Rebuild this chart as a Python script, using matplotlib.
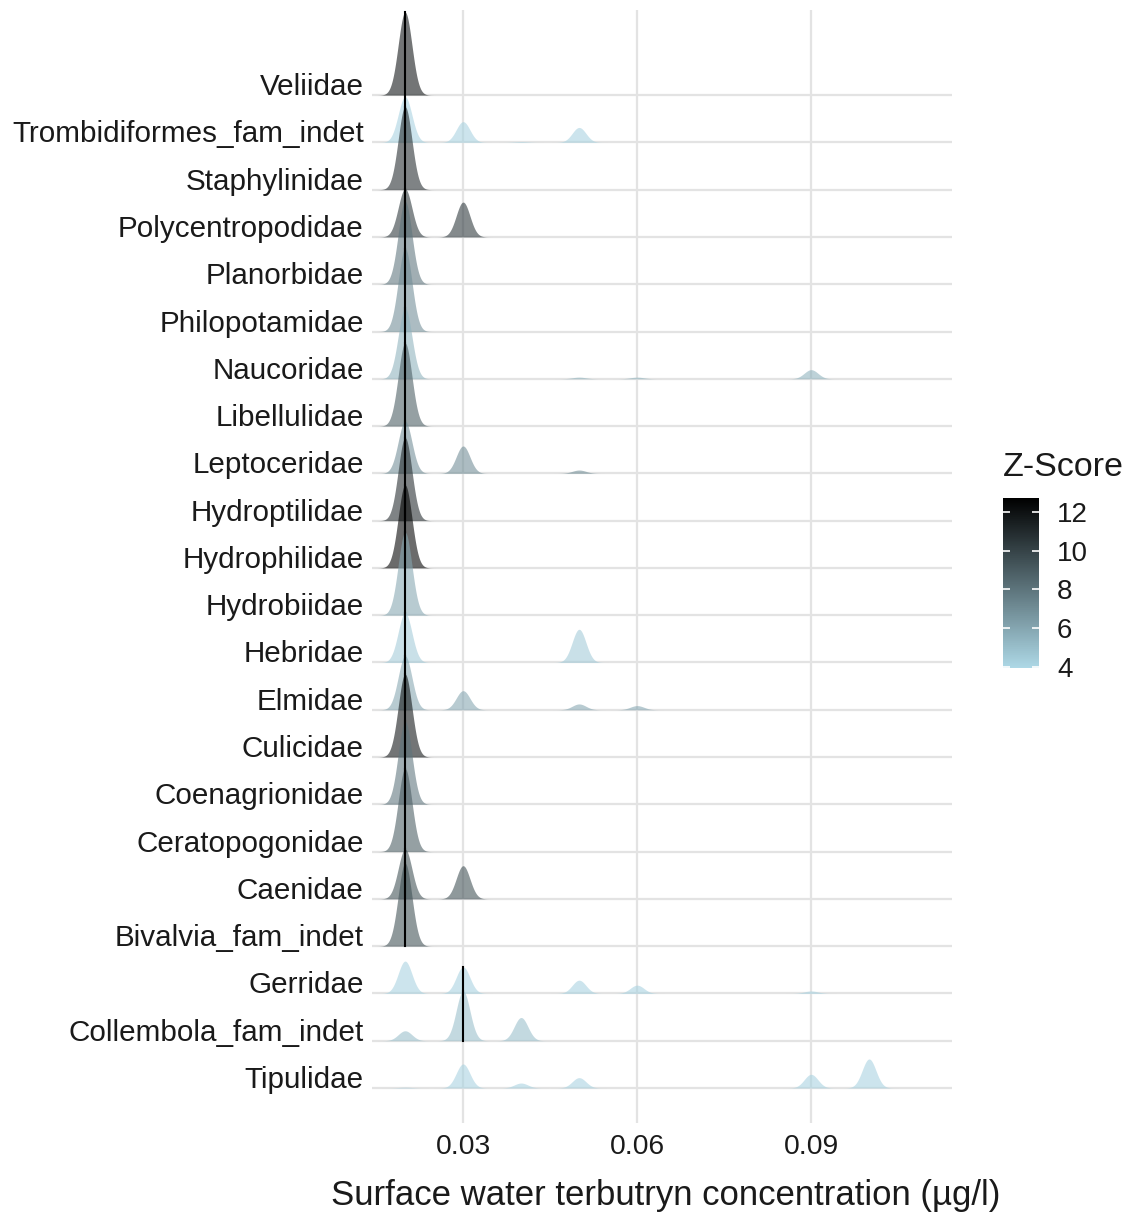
import numpy as np
import matplotlib
matplotlib.use("Agg")
import matplotlib.pyplot as plt
from matplotlib.colors import LinearSegmentedColormap, Normalize

plt.rcParams['font.family'] = ['Liberation Sans', 'DejaVu Sans']

# ---- data ----
families = ["Veliidae", "Trombidiformes_fam_indet", "Staphylinidae", "Polycentropodidae",
            "Planorbidae", "Philopotamidae", "Naucoridae", "Libellulidae", "Leptoceridae",
            "Hydroptilidae", "Hydrophilidae", "Hydrobiidae", "Hebridae", "Elmidae",
            "Culicidae", "Coenagrionidae", "Ceratopogonidae", "Caenidae",
            "Bivalvia_fam_indet", "Gerridae", "Collembola_fam_indet", "Tipulidae"]

zscore = [12.0, 4.2, 11.0, 10.5, 8.0, 7.0, 5.5, 9.0, 7.0, 11.0, 12.7, 6.0, 4.5, 6.0,
          12.0, 8.0, 9.0, 9.5, 9.5, 4.2, 5.0, 4.2]

conc_levels = [0.02, 0.03, 0.04, 0.05, 0.06, 0.09, 0.10]

# share of observations at each concentration level (rows follow `families`)
share = [
    [1.00, 0.00, 0.00, 0.00, 0.00, 0.00, 0.00],  # Veliidae
    [0.55, 0.25, 0.01, 0.18, 0.00, 0.00, 0.00],  # Trombidiformes
    [1.00, 0.00, 0.00, 0.00, 0.00, 0.00, 0.00],  # Staphylinidae
    [0.58, 0.42, 0.00, 0.00, 0.00, 0.00, 0.00],  # Polycentropodidae
    [1.00, 0.00, 0.00, 0.00, 0.00, 0.00, 0.00],  # Planorbidae
    [1.00, 0.00, 0.00, 0.00, 0.00, 0.00, 0.00],  # Philopotamidae
    [0.85, 0.00, 0.00, 0.02, 0.02, 0.11, 0.00],  # Naucoridae
    [1.00, 0.00, 0.00, 0.00, 0.00, 0.00, 0.00],  # Libellulidae
    [0.63, 0.33, 0.00, 0.04, 0.00, 0.00, 0.00],  # Leptoceridae
    [1.00, 0.00, 0.00, 0.00, 0.00, 0.00, 0.00],  # Hydroptilidae
    [1.00, 0.00, 0.00, 0.00, 0.00, 0.00, 0.00],  # Hydrophilidae
    [1.00, 0.00, 0.00, 0.00, 0.00, 0.00, 0.00],  # Hydrobiidae
    [0.60, 0.00, 0.00, 0.40, 0.00, 0.00, 0.00],  # Hebridae
    [0.65, 0.23, 0.00, 0.07, 0.05, 0.00, 0.00],  # Elmidae
    [1.00, 0.00, 0.00, 0.00, 0.00, 0.00, 0.00],  # Culicidae
    [1.00, 0.00, 0.00, 0.00, 0.00, 0.00, 0.00],  # Coenagrionidae
    [1.00, 0.00, 0.00, 0.00, 0.00, 0.00, 0.00],  # Ceratopogonidae
    [0.60, 0.40, 0.00, 0.00, 0.00, 0.00, 0.00],  # Caenidae
    [1.00, 0.00, 0.00, 0.00, 0.00, 0.00, 0.00],  # Bivalvia
    [0.39, 0.32, 0.00, 0.16, 0.10, 0.03, 0.00],  # Gerridae
    [0.12, 0.60, 0.28, 0.00, 0.00, 0.00, 0.00],  # Collembola
    [0.01, 0.29, 0.06, 0.125, 0.00, 0.165, 0.35],  # Tipulidae
]

median_conc = [0.02, 0.02, 0.02, 0.02, 0.02, 0.02, 0.02, 0.02, 0.02, 0.02, 0.02, 0.02,
               0.02, 0.02, 0.02, 0.02, 0.02, 0.02, 0.02, 0.03, 0.03, 0.08]

xticks = [0.03, 0.06, 0.09]
xtick_labels = ["0.03", "0.06", "0.09"]
cbar_ticks = [4, 6, 8, 10, 12]

# ---- style ----
bw = 0.00118
ridge_scale = 1.755
fill_alpha = 0.58
grid_col = "#e3e3e3"

cmap = LinearSegmentedColormap.from_list("zs", ["#ADD8E6", "#000000"])
norm = Normalize(vmin=3.95, vmax=12.72)

W, H = 1132, 1213
fig = plt.figure(figsize=(W / 100, H / 100), dpi=100)
ax = fig.add_axes([372 / W, 1 - 1123 / H, (952 - 372) / W, (1123 - 10) / H])

n = len(families)
ypos = [n - i for i in range(n)]
xs = np.linspace(0.0143, 0.1143, 3000)


def dens(x, w):
    out = np.zeros_like(x, dtype=float)
    for c, s in zip(conc_levels, w):
        if s > 0:
            out += s * np.exp(-0.5 * ((x - c) / bw) ** 2)
    return out


# grid
for xv in xticks:
    ax.axvline(xv, color=grid_col, lw=1.6, zorder=0)
for y in ypos:
    ax.axhline(y, color=grid_col, lw=1.6, zorder=0)

# ridges, top row first so lower rows overlay
for i, fam in enumerate(families):
    y0 = ypos[i]
    d = dens(xs, share[i]) * ridge_scale
    col = cmap(norm(zscore[i]))
    ax.fill_between(xs, y0, y0 + d, color=col, alpha=fill_alpha, lw=0, zorder=2 + i)
    m = median_conc[i]
    hm = dens(np.array([m]), share[i])[0] * ridge_scale
    ax.plot([m, m], [y0, y0 + hm], color="black", lw=1.5, zorder=2 + i,
            solid_capstyle="projecting")

ax.set_xlim(0.0143, 0.1143)
ax.set_ylim(0.26, 23.8)
ax.set_xticks(xticks)
ax.set_xticklabels(xtick_labels)
ax.set_yticks(ypos)
ax.set_yticklabels(families)
for lab in ax.get_yticklabels():
    lab.set_verticalalignment("baseline")
ax.tick_params(axis="both", length=0, labelcolor="#1a1a1a")
ax.tick_params(axis="y", pad=6, labelsize=21.3)
ax.tick_params(axis="x", pad=8, labelsize=20.3)
for sp in ax.spines.values():
    sp.set_visible(False)
ax.set_xlabel("Surface water terbutryn concentration (µg/l)", fontsize=25, color="#1a1a1a")
ax.xaxis.set_label_coords(0.507, -0.050)

# colour bar
cax = fig.add_axes([1003 / W, 1 - 668 / H, 36 / W, 170 / H])
sm = matplotlib.cm.ScalarMappable(norm=norm, cmap=cmap)
cb = fig.colorbar(sm, cax=cax)
cb.outline.set_visible(False)
cb.set_ticks(cbar_ticks)
cax.tick_params(length=0, labelsize=20, pad=13, labelcolor="#1a1a1a")
cax.hlines(cbar_ticks, 0, 0.2, color="white", lw=1.2)
cax.hlines(cbar_ticks, 0.8, 1.0, color="white", lw=1.2)
fig.text(1003 / W, 1 - 467 / H, "Z-Score", fontsize=24.5, va="center", ha="left",
         color="#1a1a1a")

fig.savefig("out.png", dpi=100)
